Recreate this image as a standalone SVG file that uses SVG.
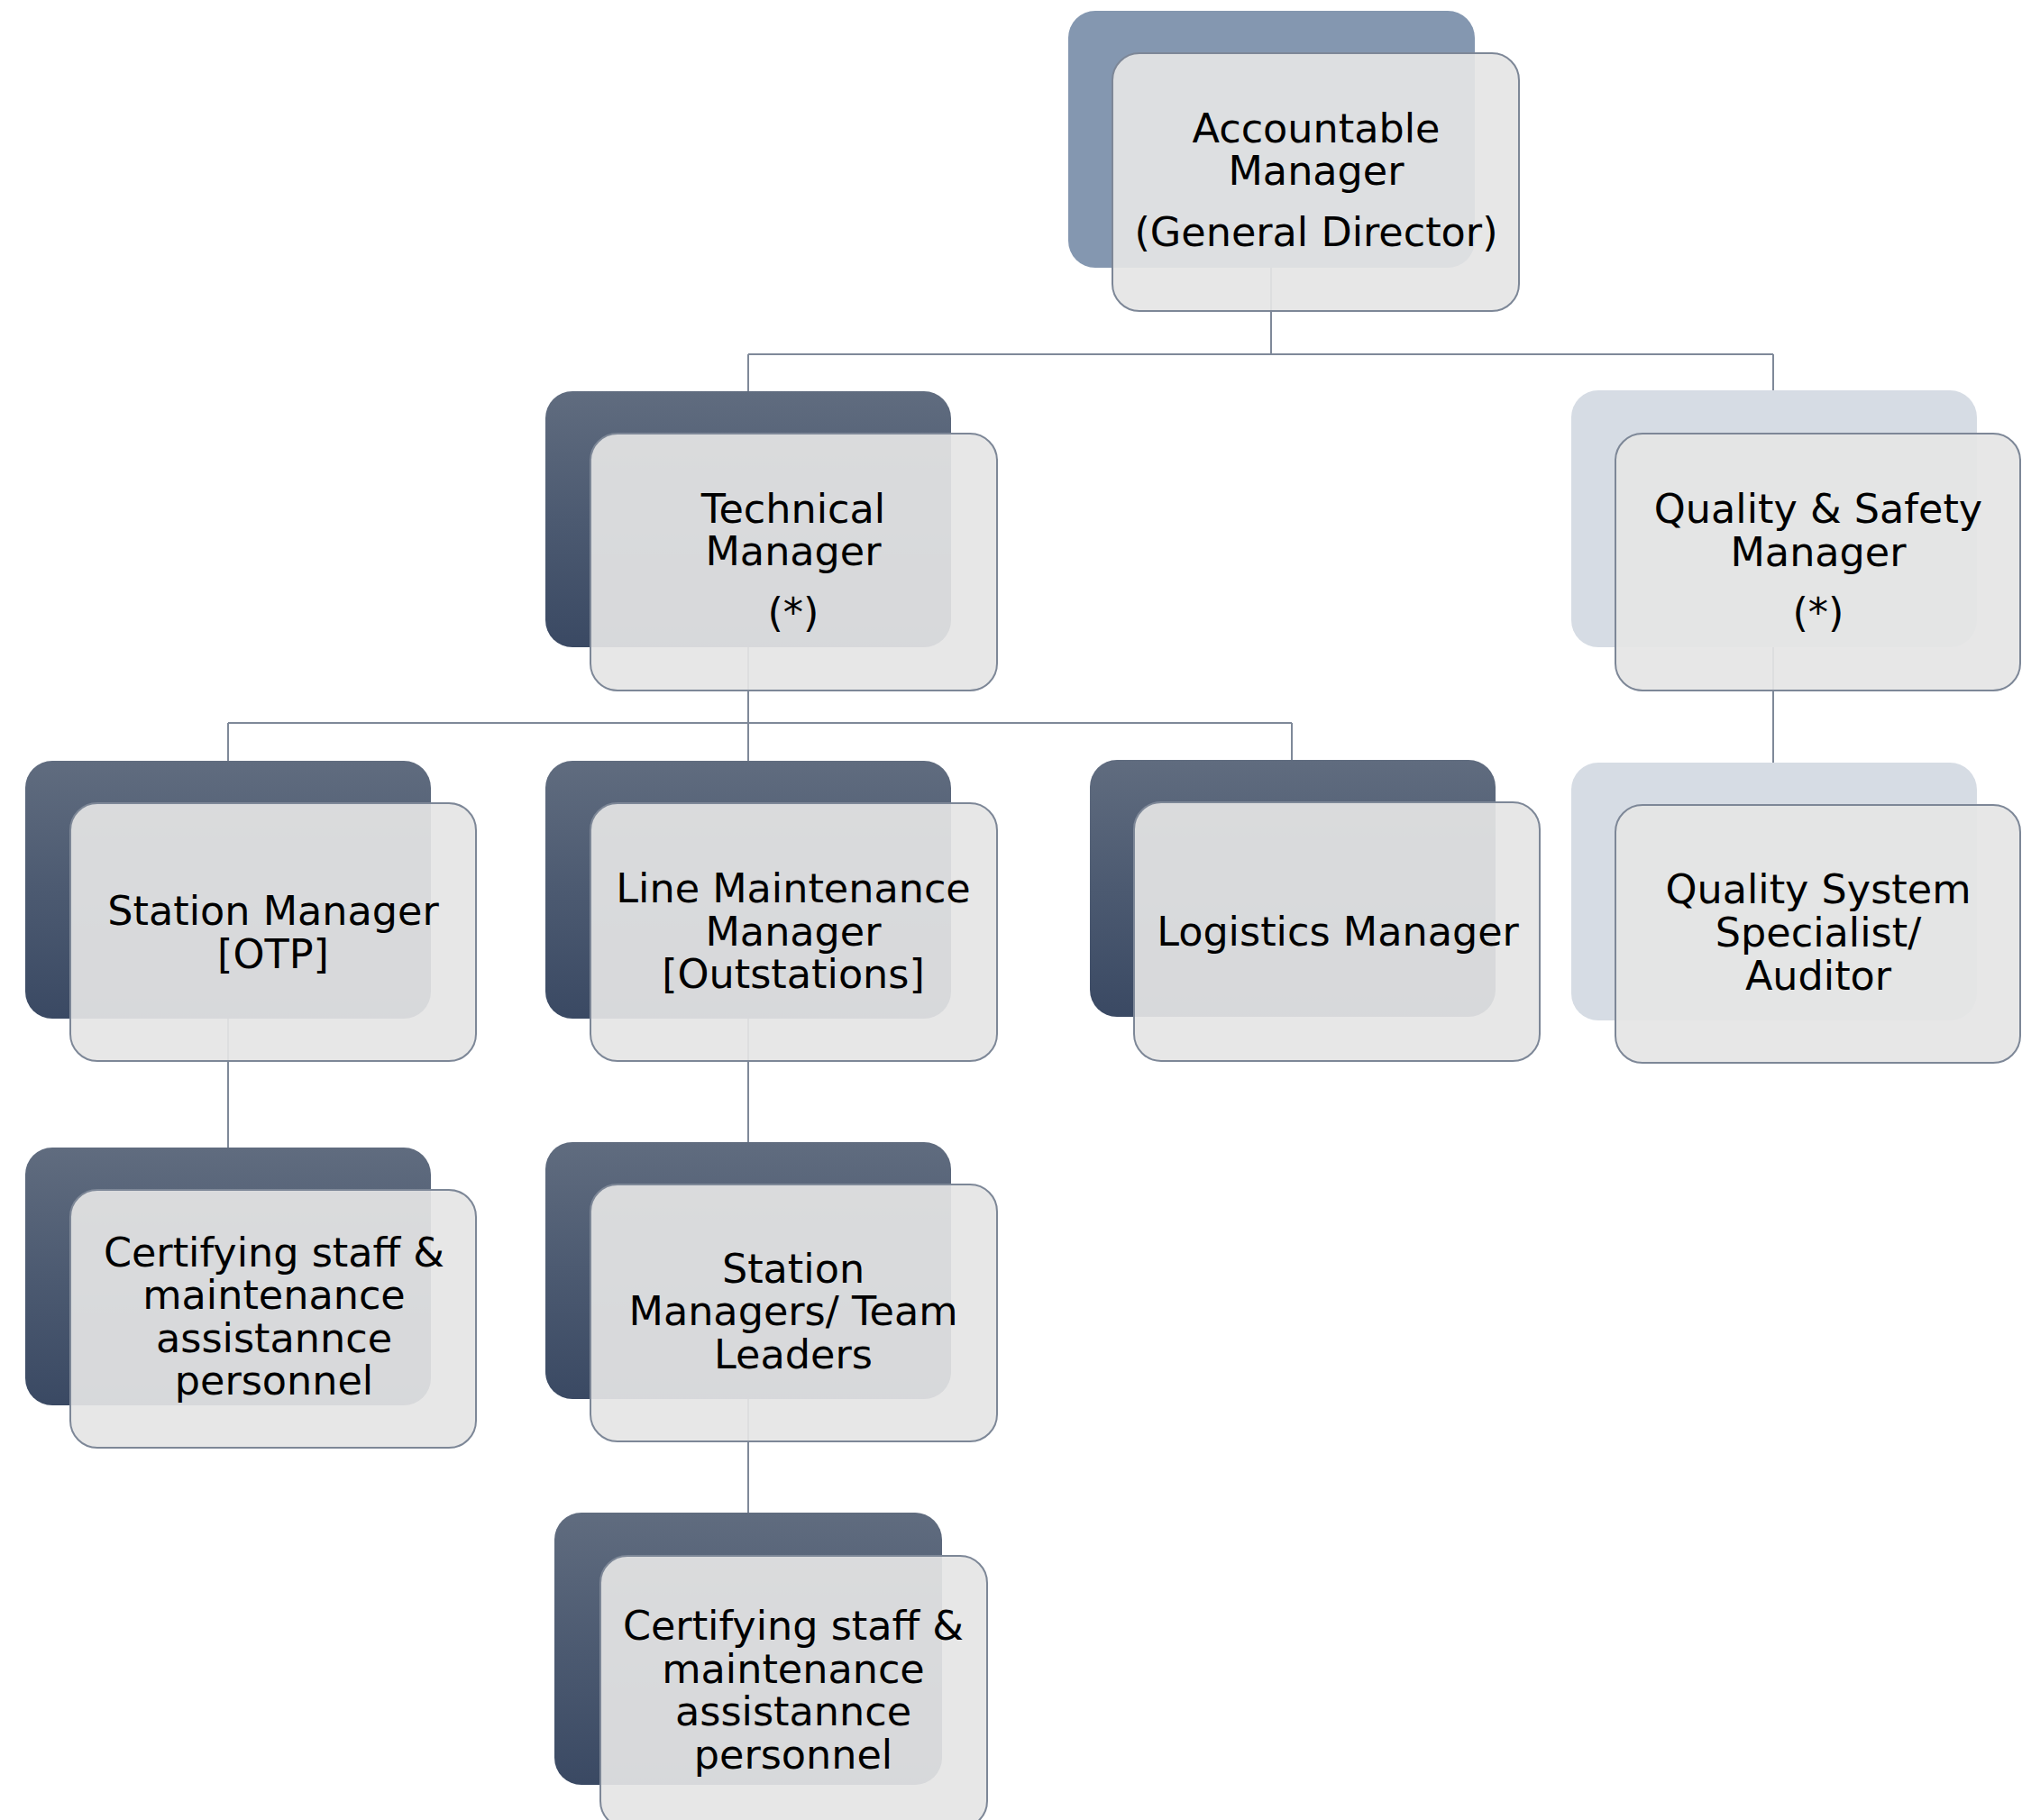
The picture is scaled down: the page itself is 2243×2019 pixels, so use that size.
<svg xmlns="http://www.w3.org/2000/svg" width="2243" height="2019" viewBox="0 0 2243 2019">
<defs>
<linearGradient id="dark" x1="0" y1="0" x2="0" y2="1">
<stop offset="0" stop-color="#606c7f"/>
<stop offset="0.5" stop-color="#4c5a71"/>
<stop offset="1" stop-color="#3a4963"/>
</linearGradient>
<style>
.conn{stroke:#7f8999;stroke-width:2;fill:none}
.back{fill:url(#dark)}
.backMid{fill:#8497b0}
.backLight{fill:#d6dce4}
.front{fill:#e5e5e5;fill-opacity:0.92;stroke:#7d8797;stroke-width:2}
.t{font-family:"DejaVu Sans","Verdana",sans-serif;font-size:44.5px;fill:#000;text-anchor:middle}
</style>
</defs>
<rect width="2243" height="2019" fill="#ffffff"/>
<g id="connectors">
<path class="conn" d="M1410 250V393M830 393H1967M830 393V480M1967 393V480"/>
<path class="conn" d="M830 700V802M253 802H1433M253 802V890M830 802V890M1433 802V890"/>
<path class="conn" d="M1967 700V892"/>
<path class="conn" d="M253 1120V1320"/>
<path class="conn" d="M830 1120V1314"/>
<path class="conn" d="M830 1540V1726"/>
</g>
<g id="accountable-manager">
<rect class="backMid" x="1185" y="12" width="451" height="285" rx="30"/>
<rect class="front" x="1234" y="59" width="451" height="286" rx="30"/>
<text class="t" x="1460" y="158">Accountable</text>
<text class="t" x="1460" y="205">Manager</text>
<text class="t" x="1460" y="273">(General Director)</text>
</g>
<g id="technical-manager">
<rect class="back" x="605" y="434" width="450" height="284" rx="30"/>
<rect class="front" x="655" y="481" width="451" height="285" rx="30"/>
<text class="t" x="880" y="580">Technical</text>
<text class="t" x="880" y="627">Manager</text>
<text class="t" x="880" y="695">(*)</text>
</g>
<g id="quality-safety-manager">
<rect class="backLight" x="1743" y="433" width="450" height="285" rx="30"/>
<rect class="front" x="1792" y="481" width="449" height="285" rx="30"/>
<text class="t" x="2017" y="580">Quality &amp; Safety</text>
<text class="t" x="2017" y="628">Manager</text>
<text class="t" x="2017" y="695">(*)</text>
</g>
<g id="station-manager-otp">
<rect class="back" x="28" y="844" width="450" height="286" rx="30"/>
<rect class="front" x="78" y="891" width="450" height="286" rx="30"/>
<text class="t" x="303" y="1026">Station Manager</text>
<text class="t" x="303" y="1074">[OTP]</text>
</g>
<g id="line-maintenance-manager">
<rect class="back" x="605" y="844" width="450" height="286" rx="30"/>
<rect class="front" x="655" y="891" width="451" height="286" rx="30"/>
<text class="t" x="880" y="1001">Line Maintenance</text>
<text class="t" x="880" y="1049">Manager</text>
<text class="t" x="880" y="1096">[Outstations]</text>
</g>
<g id="logistics-manager">
<rect class="back" x="1209" y="843" width="450" height="285" rx="30"/>
<rect class="front" x="1258" y="890" width="450" height="287" rx="30"/>
<text class="t" x="1484" y="1049">Logistics Manager</text>
</g>
<g id="quality-system-specialist">
<rect class="backLight" x="1743" y="846" width="450" height="286" rx="30"/>
<rect class="front" x="1792" y="893" width="449" height="286" rx="30"/>
<text class="t" x="2017" y="1002">Quality System</text>
<text class="t" x="2017" y="1050">Specialist/</text>
<text class="t" x="2017" y="1098">Auditor</text>
</g>
<g id="certifying-staff-otp">
<rect class="back" x="28" y="1273" width="450" height="286" rx="30"/>
<rect class="front" x="78" y="1320" width="450" height="286" rx="30"/>
<text class="t" x="304" y="1405">Certifying staff &amp;</text>
<text class="t" x="304" y="1452">maintenance</text>
<text class="t" x="304" y="1500">assistannce</text>
<text class="t" x="304" y="1547">personnel</text>
</g>
<g id="station-managers-team-leaders">
<rect class="back" x="605" y="1267" width="450" height="285" rx="30"/>
<rect class="front" x="655" y="1314" width="451" height="285" rx="30"/>
<text class="t" x="880" y="1423">Station</text>
<text class="t" x="880" y="1470">Managers/ Team</text>
<text class="t" x="880" y="1518">Leaders</text>
</g>
<g id="certifying-staff-outstations">
<rect class="back" x="615" y="1678" width="430" height="302" rx="30"/>
<rect class="front" x="666" y="1726" width="429" height="302" rx="30"/>
<text class="t" x="880" y="1819">Certifying staff &amp;</text>
<text class="t" x="880" y="1867">maintenance</text>
<text class="t" x="880" y="1914">assistannce</text>
<text class="t" x="880" y="1962">personnel</text>
</g>
</svg>
